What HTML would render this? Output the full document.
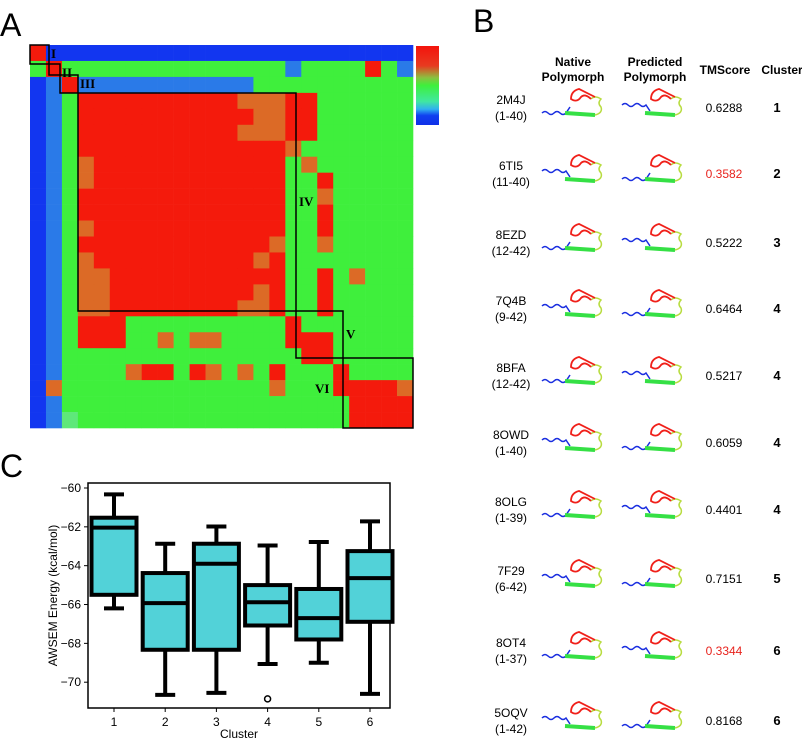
<!DOCTYPE html>
<html><head><meta charset="utf-8"><style>
html,body{margin:0;padding:0;background:#fff;}
body{width:802px;height:741px;position:relative;overflow:hidden;font-family:"Liberation Sans",Arial,sans-serif;}
svg{position:absolute;left:0;top:0;}
</style></head><body>
<svg id="fig" width="802" height="741" viewBox="0 0 802 741" xmlns="http://www.w3.org/2000/svg">
<text x="0" y="36" font-size="32" font-family="Liberation Sans, sans-serif">A</text>
<text x="473" y="32" font-size="32" font-family="Liberation Sans, sans-serif">B</text>
<text x="0" y="477" font-size="32" font-family="Liberation Sans, sans-serif">C</text>
<g id="heat"></g>
<defs><linearGradient id="cb" x1="0" y1="0" x2="0" y2="1">
<stop offset="0" stop-color="#f4140c"/><stop offset="0.25" stop-color="#e83a20"/><stop offset="0.4" stop-color="#8cc040"/><stop offset="0.5" stop-color="#3ef03c"/><stop offset="0.7" stop-color="#40e8a0"/><stop offset="0.8" stop-color="#30b0f0"/><stop offset="0.88" stop-color="#1040f0"/><stop offset="1" stop-color="#1030e8"/></linearGradient></defs>
<rect x="416" y="46" width="23" height="79" fill="url(#cb)"/>
<g id="boxes"></g>
<g id="table"></g>
<g id="box"></g>
</svg>
<script>
const NS='http://www.w3.org/2000/svg';
function mk(tag,attrs,parent){const e=document.createElementNS(NS,tag);for(const k in attrs)e.setAttribute(k,attrs[k]);parent.appendChild(e);return e;}

// ---------- Heatmap data ----------
const heatRows=[
"RBBBBBBBBBBBBBBBBBBBBBBB",
"GRGGGGGGGGGGGGGGCGGGGRGC",
"BCRCCCCCCCCCCCGGGGGGGGGG",
"BCGRRRRRRRRRROOORRGGGGGG",
"BCGRRRRRRRRRRROORRGGGGGG",
"BCGRRRRRRRRRROOORRGGGGGG",
"BCGRRRRRRRRRRRRROGGGGGGG",
"BCGORRRRRRRRRRRRGOGGGGGG",
"BCGORRRRRRRRRRRRGGRGGGGG",
"BCGRRRRRRRRRRRRRGGOGGGGG",
"BCGRRRRRRRRRRRRRGGRGGGGG",
"BCGORRRRRRRRRRRRGGRGGGGG",
"BCGRRRRRRRRRRRROGGOGGGGG",
"BCGORRRRRRRRRRORGGGGGGGG",
"BCGOORRRRRRRRRRRGGRGOGGG",
"BCGOORRRRRRRRRORGGRGGGGG",
"BCGOORRRRRRRROORGGRGGGGG",
"BCGRRRGGGGGGGGGGRGGGGGGG",
"BCGRRRGGOGOOGGGGRRRGGGGG",
"BCGGGGGGGGGGGGGGGRRGGGGG",
"BCGGGGORRGROGOGRGGGRGGGG",
"BOGGGGGGGGGGGGGOGGGRRRRO",
"BCGGGGGGGGGGGGGGGGGGRRRR",
"BCLGGGGGGGGGGGGGGGGGRRRR"];
const heatColors={R:'#f41a0c',G:'#3fef3c',B:'#1236f0',C:'#2a7ae8',O:'#dc6a26',L:'#5ee87a'};
const clusterNames=['I','II','III','IV','V','VI'];
const clusterStart=[0,19,30,48,266,313];
const clusterEnd=[19,30,48,266,313,383];

const HX=30,HY=45,HS=383;
const heat=document.getElementById('heat');
const n=heatRows.length, cs=HS/n;
heatRows.forEach((row,i)=>{[...row].forEach((ch,j)=>{
  const r=mk('rect',{x:HX+j*cs,y:HY+i*cs,width:cs+0.3,height:cs+0.3,fill:heatColors[ch]},heat);
  
  
});});
const bx=document.getElementById('boxes');
clusterNames.forEach((nm,k)=>{
  const x0=HX+clusterStart[k],x1=HX+clusterEnd[k];
  const r=mk('rect',{x:x0,y:HY+clusterStart[k],width:x1-x0,height:x1-x0,fill:'none',stroke:'#000','stroke-width':1.5},bx);
  
  
  let lx,ly;
  if(k<3){lx=x1+2;ly=HY+clusterStart[k]+13;}
  else if(k<5){lx=x1+3;ly=HY+(clusterStart[k]+clusterEnd[k])/2+4;}
  else{lx=x0-28;ly=HY+clusterStart[k]+35;}
  const t=mk('text',{x:lx,y:ly,'font-size':13,'font-weight':'bold','font-family':'Liberation Serif, serif'},bx);
  t.textContent=nm;
  
  
});

// ---------- Table ----------
const pdbIds=['2M4J','6TI5','8EZD','7Q4B','8BFA','8OWD','8OLG','7F29','8OT4','5OQV'];
const ranges=['(1-40)','(11-40)','(12-42)','(9-42)','(12-42)','(1-40)','(1-39)','(6-42)','(1-37)','(1-42)'];
const tmScores=['0.6288','0.3582','0.5222','0.6464','0.5217','0.6059','0.4401','0.7151','0.3344','0.8168'];
const clusters=['1','2','3','4','4','4','4','5','6','6'];
const rowY=[107,173,242,308,375,442,509,578,650,720];
const tb=document.getElementById('table');
function txt(x,y,s,opt,name){const t=mk('text',Object.assign({x:x,y:y,'font-size':12,'text-anchor':'middle'},opt||{}),tb);t.textContent=s;return t;}
txt(573,66,'Native',{'font-weight':'bold'},'header-native');
txt(573,81,'Polymorph',{'font-weight':'bold'},'header-native');
txt(655,66,'Predicted',{'font-weight':'bold'},'header-predicted');
txt(655,81,'Polymorph',{'font-weight':'bold'},'header-predicted');
txt(725,74,'TMScore',{'font-weight':'bold'},'header-tmscore');
txt(782,74,'Cluster',{'font-weight':'bold'},'header-cluster');
function protein(cx,cy,v){
  const g=mk('g',{transform:`translate(${cx},${cy})`},tb);
  
  
  const s=v%2?1:-1;
  mk('path',{d:`M-33,${-4*s} q3,-3 6,0 q3,3 6,0 q3,-3 6,0 q3,3 6,0 L-5,${2*s}`,stroke:'#1a2ee0','stroke-width':1.5,fill:'none'},g);
  mk('path',{d:`M-10,4 L20,6`,stroke:'#35e045','stroke-width':4,fill:'none'},g);
  mk('path',{d:`M20,6 q8,-2 6,-8 q-4,-4 0,-8 q-6,-4 -10,0`,stroke:'#b8dc40','stroke-width':1.5,fill:'none'},g);
  mk('path',{d:`M16,-10 q-6,-6 -10,-2 q-4,6 -10,2 q0,-8 8,-10 L20,-12`,stroke:'#f0201a','stroke-width':1.8,fill:'none'},g);
}
pdbIds.forEach((id,i)=>{
  const y=rowY[i];
  txt(511,y-3,id,{},'pdb-id');
  txt(511,y+13,ranges[i],{},'residue-range');
  protein(575,y+2,i);protein(655,y+2,i+1);
  txt(724,y+5,tmScores[i],{fill:(+tmScores[i]<0.4?'#e8231d':'#000')},'tm-score');
  txt(777,y+5,clusters[i],{'font-weight':'bold','font-size':13},'cluster-number');
});

// ---------- Box plot ----------
const cats=['1','2','3','4','5','6'];
const whiskHi=[-60.33,-62.87,-61.98,-62.96,-62.78,-61.72];
const q3=[-61.53,-64.38,-62.87,-65.0,-65.2,-63.25];
const med=[-62.04,-65.93,-63.9,-65.88,-66.7,-64.64];
const q1=[-65.5,-68.33,-68.33,-67.08,-67.8,-66.89];
const whiskLo=[-66.2,-70.65,-70.55,-69.06,-69.0,-70.6];
const outliers=[[],[],[],[-70.86],[],[]];
const yTicks=[-60,-62,-64,-66,-68,-70];
const bg=document.getElementById('box');
const PL=88,PR=390,PT=483,PB=708;
const yS=v=>488+(-60-v)*19.42;
const xS=i=>114+i*51.2;
mk('rect',{x:PL,y:PT,width:PR-PL,height:PB-PT,fill:'none',stroke:'#000','stroke-width':1.5},bg);
yTicks.forEach(v=>{
  const l=mk('line',{x1:PL-4,x2:PL,y1:yS(v),y2:yS(v),stroke:'#000'},bg);
  
  
  const t=mk('text',{x:PL-7,y:yS(v)+4,'font-size':12,'text-anchor':'end'},bg);
  t.textContent='\u2212'+Math.abs(v);
  
  
});
const yt=mk('text',{x:0,y:0,'font-size':12,'text-anchor':'middle',transform:`translate(57,${(PT+PB)/2}) rotate(-90)`},bg);
yt.textContent='AWSEM Energy (kcal/mol)';


const xt=mk('text',{x:(PL+PR)/2,y:738,'font-size':12,'text-anchor':'middle'},bg);
xt.textContent='Cluster';


cats.forEach((c,i)=>{
  const x=xS(i),w=45;
  const tk=mk('line',{x1:x,x2:x,y1:PB,y2:PB+4,stroke:'#000'},bg);
  
  
  const t=mk('text',{x:x,y:PB+18,'font-size':12,'text-anchor':'middle'},bg);
  t.textContent=c;
  
  
  const g=mk('g',{},bg);
  
  
  mk('line',{x1:x,x2:x,y1:yS(whiskHi[i]),y2:yS(q3[i]),stroke:'#000','stroke-width':4},g);
  mk('line',{x1:x,x2:x,y1:yS(q1[i]),y2:yS(whiskLo[i]),stroke:'#000','stroke-width':4},g);
  mk('line',{x1:x-10,x2:x+10,y1:yS(whiskHi[i]),y2:yS(whiskHi[i]),stroke:'#000','stroke-width':4},g);
  mk('line',{x1:x-10,x2:x+10,y1:yS(whiskLo[i]),y2:yS(whiskLo[i]),stroke:'#000','stroke-width':4},g);
  mk('rect',{x:x-w/2,y:yS(q3[i]),width:w,height:yS(q1[i])-yS(q3[i]),fill:'#52d2d8',stroke:'#000','stroke-width':4},g);
  mk('line',{x1:x-w/2,x2:x+w/2,y1:yS(med[i]),y2:yS(med[i]),stroke:'#000','stroke-width':4},g);
  outliers[i].forEach(o=>{
    const c2=mk('circle',{cx:x,cy:yS(o),r:3,fill:'none',stroke:'#000','stroke-width':1.5},g);
    
    
  });
});
</script>
</body></html>
